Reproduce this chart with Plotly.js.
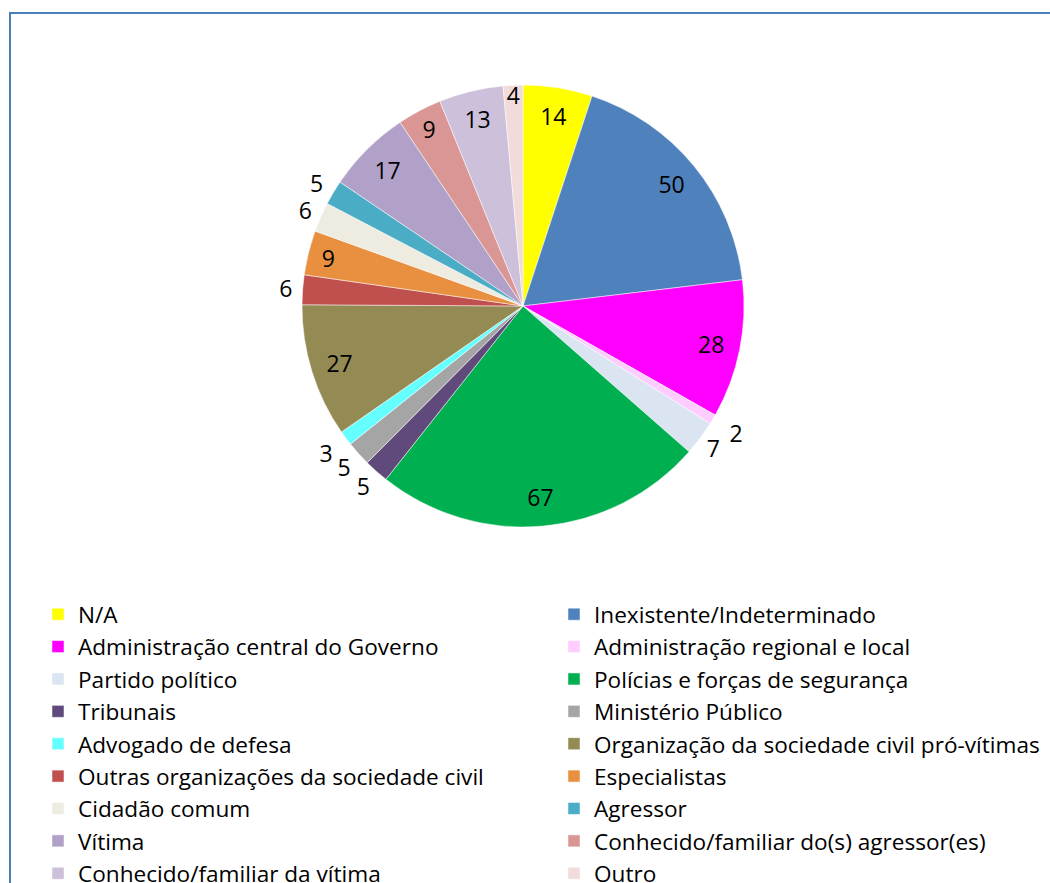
<!DOCTYPE html>
<html>
<head>
<meta charset="utf-8">
<script src="https://cdn.plot.ly/plotly-3.0.1.min.js"></script>
<style>html,body{margin:0;padding:0;background:#fff;}#chart{width:1050px;height:883px;}</style>
</head>
<body>
<div id="chart"></div>
<script>
const categories = [
  "N/A", "Inexistente/Indeterminado",
  "Administração central do Governo", "Administração regional e local",
  "Partido político", "Polícias e forças de segurança",
  "Tribunais", "Ministério Público",
  "Advogado de defesa", "Organização da sociedade civil pró-vítimas",
  "Outras organizações da sociedade civil", "Especialistas",
  "Cidadão comum", "Agressor",
  "Vítima", "Conhecido/familiar do(s) agressor(es)",
  "Conhecido/familiar da vítima", "Outro"
];
const values = [14, 50, 28, 2, 7, 67, 5, 5, 3, 27, 6, 9, 6, 5, 17, 9, 13, 4];
const colors = [
  "#FFFF00", "#4F81BD", "#FF00FF", "#FFCCFF", "#DBE5F1", "#00B050",
  "#604A7B", "#A5A5A5", "#66FFFF", "#948A54", "#C0504D", "#E8903F",
  "#EEECE1", "#4BACC6", "#B1A0C7", "#DA9694", "#CCC0DA", "#F2DCDB"
];
// true = value label drawn outside the pie
const labelOutside = [
  false, false, false, true, true, false,
  true, true, true, false, true, false,
  true, true, false, false, false, false
];

const W = 1050, H = 883;
const cx = 523, cy = 306, r = 221, rInner = 163, rOuter = 254;
const FONT = "'Open Sans', Lato, sans-serif";

function domainFor(rad) {
  return {
    x: [(cx - rad) / W, (cx + rad) / W],
    y: [(H - cy - rad) / H, (H - cy + rad) / H]
  };
}

const pieTrace = {
  type: "pie",
  labels: categories,
  values: values,
  sort: false,
  direction: "clockwise",
  rotation: 0,
  marker: { colors: colors, line: { color: "#ffffff", width: 0.5 } },
  textinfo: "none",
  automargin: false,
  hoverinfo: "label+value",
  domain: domainFor(r)
};

// transparent rings that only carry the value labels
function labelRing(outerRadius, innerRadius, show) {
  return {
    type: "pie",
    labels: categories,
    values: values,
    sort: false,
    direction: "clockwise",
    rotation: 0,
    hole: innerRadius / outerRadius,
    showlegend: false,
    marker: { colors: categories.map(() => "rgba(0,0,0,0)"), line: { width: 0 } },
    textinfo: "value",
    textposition: show.map(s => s ? "inside" : "none"),
    insidetextorientation: "horizontal",
    textfont: { family: FONT, size: 23, color: "#000000" },
    automargin: false,
    hoverinfo: "skip",
    domain: domainFor(outerRadius)
  };
}

const innerLabels = labelRing(r, rInner, labelOutside.map(o => !o));
const outerLabels = labelRing(rOuter, r, labelOutside);

const layout = {
  width: W, height: H,
  margin: { l: 0, r: 0, t: 0, b: 0, autoexpand: false },
  paper_bgcolor: "#ffffff",
  showlegend: true,
  uniformtext: { mode: "show", minsize: 23 },
  font: { family: FONT, color: "#000000" },
  legend: {
    orientation: "h",
    x: 38 / W, xanchor: "left",
    y: 1 - 593 / H, yanchor: "top",
    entrywidth: 471, entrywidthmode: "pixels",
    font: { family: FONT, size: 22.6, color: "#000000" },
    traceorder: "normal",
    maxheight: 1,
    bgcolor: "rgba(0,0,0,0)"
  },
  shapes: [{
    type: "rect", xref: "paper", yref: "paper",
    x0: 10 / W, x1: 1.05, y0: -0.05, y1: 1 - 13 / H,
    line: { color: "#4A7EBB", width: 2 }
  }]
};

Plotly.newPlot("chart", [pieTrace, innerLabels, outerLabels], layout, { displayModeBar: false, responsive: false });
</script>
</body>
</html>
